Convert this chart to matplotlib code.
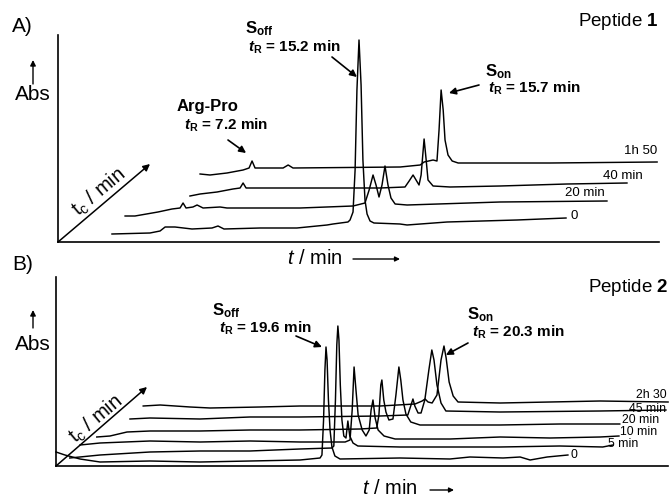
import matplotlib
matplotlib.use("Agg")
import matplotlib.pyplot as plt

plt.rcParams['font.family'] = ['Liberation Sans', 'DejaVu Sans']
plt.rcParams['mathtext.fontset'] = 'custom'
plt.rcParams['mathtext.rm'] = 'Liberation Sans'
plt.rcParams['mathtext.it'] = 'Liberation Sans:italic'
plt.rcParams['mathtext.bf'] = 'Liberation Sans:bold'
plt.rcParams['mathtext.bfit'] = 'Liberation Sans:italic:bold'

# ---------------- data: panel A (peptide 1) ----------------
# each trace: retention time t (min) and absorbance (arb. units),
# plus a pseudo-3D offset along the t_c axis (dx in min, dy in abs units)
A_labels = ["0", "20 min", "40 min", "1h 50"]
A_dx = [0.0, 0.61, 2.35, 3.09]
A_dy = [0, 20, 40, 60]

A0_t = [4.46, 6.11, 6.55, 6.77, 7.20, 7.94, 8.81, 9.07, 9.33, 10.9, 12.5, 13.81, 14.07,
        14.72, 14.81, 14.94, 15.03, 15.11, 15.20, 15.29, 15.37, 15.46, 15.55, 15.68,
        15.85, 16.98, 17.29, 19.03, 22.07, 24.2]
A0_abs = [8, 9, 11, 15, 15, 13, 14, 16, 13, 14, 14, 17, 18,
          20, 22, 30, 72, 152, 202, 157, 82, 42, 28, 21,
          19, 18, 17, 20, 22, 24]

A20_t = [4.42, 4.85, 5.85, 6.46, 6.81, 6.94, 7.07, 7.37, 7.55, 7.81, 8.55, 8.85, 12.03,
         14.33, 14.85, 15.03, 15.20, 15.33, 15.46, 15.59, 15.72, 15.85, 15.98, 16.16,
         16.68, 20.72, 25.37]
A20_abs = [6, 6, 10, 13, 14, 19, 14, 15, 17, 14, 15, 14, 14,
           16, 19, 32, 47, 37, 25, 37, 56, 37, 24, 18,
           17, 20, 21]

A40_t = [5.50, 5.94, 6.68, 7.37, 7.68, 7.81, 7.94, 10.29, 13.77, 14.85, 15.03, 15.20,
         15.33, 15.46, 15.55, 15.68, 15.77, 15.85, 16.07, 16.81, 18.98, 21.9, 24.5]
A40_abs = [6, 8, 10, 13, 14, 19, 14, 14, 14, 15, 21, 27,
           22, 17, 27, 63, 42, 22, 16, 15, 16, 18, 19]

A110_t = [5.20, 5.63, 6.37, 7.07, 7.33, 7.46, 7.59, 8.81, 9.03, 9.24, 13.9, 14.77, 14.94,
          15.33, 15.50, 15.59, 15.68, 15.77, 15.85, 15.98, 16.16, 16.42, 18.24, 20.42, 25.07]
A110_abs = [8, 7, 9, 12, 14, 21, 14, 14, 17, 14, 15, 17, 20,
            22, 21, 52, 92, 72, 42, 27, 21, 19, 19, 19, 20]

A_t = [A0_t, A20_t, A40_t, A110_t]
A_abs = [A0_abs, A20_abs, A40_abs, A110_abs]

# ---------------- data: panel B (peptide 2) ----------------
B_labels = ["0", "5 min", "10 min", "20 min", "45 min", "2h 30"]
B_dx = [0.0, 0.44, 1.04, 2.07, 3.22, 3.67]
B_dy = [0, 5, 20, 28, 45, 57]

B0_t = [9.60, 9.93, 10.49, 11.23, 13.08, 14.93, 16.79, 18.64, 19.38, 19.45, 19.51, 19.56,
        19.60, 19.64, 19.69, 19.75, 19.82, 19.93, 20.12, 22.34, 24.19, 24.93, 26.16,
        26.79, 27.16, 27.79, 28.56]
B0_abs = [14, 11, 7, 4, 5, 4, 5, 6, 8, 11, 46, 96,
          119, 106, 66, 36, 19, 10, 7, 8, 7, 9, 8,
          9, 6, 9, 11]

B5_t = [9.67, 10.79, 12.64, 14.49, 16.34, 18.19, 19.38, 19.45, 19.51, 19.56, 19.60, 19.64,
        19.69, 19.75, 19.82, 19.90, 19.97, 20.04, 20.16, 20.34, 21.9, 23.75, 25.6, 27.82,
        29.41, 29.79]
B5_abs = [3, 6, 9, 10, 10, 12, 13, 15, 61, 116, 135, 121,
          76, 41, 25, 23, 40, 25, 18, 15, 14, 14, 14, 15,
          14, 16]

B10_t = [9.45, 10.19, 12.04, 13.90, 15.75, 17.60, 19.27, 19.45, 19.53, 19.60, 19.67, 19.75,
         19.90, 20.04, 20.16, 20.23, 20.30, 20.38, 20.49, 20.71, 21.12, 23.16, 25.01,
         26.86, 28.71, 29.41]
B10_abs = [1, 3, 5, 4, 5, 4, 4, 6, 36, 79, 56, 31,
           16, 10, 16, 36, 46, 28, 16, 10, 7, 7, 9,
           8, 9, 10]

B20_t = [9.04, 9.53, 10.16, 11.01, 12.86, 14.71, 16.56, 18.79, 19.41, 19.49, 19.56, 19.60,
         19.67, 19.75, 19.86, 20.01, 20.12, 20.23, 20.30, 20.38, 20.49, 20.67, 21.01,
         23.97, 26.19, 28.41]
B20_abs = [1, 2, 6, 7, 7, 8, 8, 9, 10, 23, 53, 58,
           38, 26, 18, 19, 43, 71, 58, 38, 24, 16, 13,
           13, 14, 14]

B45_t = [9.12, 9.86, 11.71, 13.56, 15.41, 18.38, 19.41, 19.53, 19.60, 19.67, 19.79, 19.90,
         20.04, 20.19, 20.30, 20.38, 20.49, 20.64, 20.82, 22.82, 26.53, 28.97]
B45_abs = [2, 3, 2, 4, 4, 5, 6, 16, 22, 15, 8, 8,
           21, 51, 71, 61, 36, 18, 10, 9, 10, 11]

B150_t = [9.16, 9.79, 10.90, 11.64, 13.49, 14.97, 17.93, 19.23, 19.49, 19.60, 19.71, 19.86,
          20.04, 20.19, 20.30, 20.38, 20.49, 20.64, 20.82, 22.38, 24.23, 26.08, 28.6]
B150_abs = [3, 4, 2, 1, 2, 3, 3, 5, 8, 10, 7, 6,
            14, 49, 63, 51, 27, 13, 7, 6, 7, 8, 7]

B_t = [B0_t, B5_t, B10_t, B20_t, B45_t, B150_t]
B_abs = [B0_abs, B5_abs, B10_abs, B20_abs, B45_abs, B150_abs]

# ---------------- figure ----------------
W, H = 672, 497
fig = plt.figure(figsize=(W / 100, H / 100), dpi=100)


def fx(px):
    return px / W


def fy(py):
    return 1 - py / H


def make_axes(x0, x1, y0, y1, xlim, ylim):
    ax = fig.add_axes([fx(x0), fy(y1), fx(x1) - fx(x0), fy(y0) - fy(y1)])
    ax.set_xlim(*xlim)
    ax.set_ylim(*ylim)
    ax.patch.set_visible(False)
    for s in ("top", "right"):
        ax.spines[s].set_visible(False)
    for s in ("left", "bottom"):
        ax.spines[s].set_linewidth(1.2)
    ax.set_xticks([])
    ax.set_yticks([])
    return ax


axA = make_axes(58, 659, 35, 242, (2.113, 28.243), (0, 207))
axB = make_axes(56, 668, 277, 466, (9.6, 32.267), (0, 189))

LW = 1.05
A_lab_off = [(4, 2, "left"), (-22, 8, "center"), (-4, 7, "center"), (-16, 11, "center")]
for t, a, dx, dy, lab, off in zip(A_t, A_abs, A_dx, A_dy, A_labels, A_lab_off):
    xs = [v + dx for v in t]
    ys = [v + dy for v in a]
    axA.plot(xs, ys, color="black", lw=LW, clip_on=False, solid_joinstyle="round")
    axA.annotate(lab, xy=(xs[-1], ys[-1]), xytext=(off[0], off[1]),
                 textcoords="offset pixels", ha=off[2], va="center", fontsize=9.5)

B_lab_off = [(6, 0, "center"), (10, 1, "center"), (20, 4, "center"), (21, 4, "center"),
             (-18, 1, "center"), (-17, 7, "center")]
for t, a, dx, dy, lab, off in zip(B_t, B_abs, B_dx, B_dy, B_labels, B_lab_off):
    xs = [v + dx for v in t]
    ys = [v + dy for v in a]
    axB.plot(xs, ys, color="black", lw=LW, clip_on=False, solid_joinstyle="round")
    axB.annotate(lab, xy=(xs[-1], ys[-1]), xytext=(off[0], off[1]),
                 textcoords="offset pixels", ha=off[2], va="center", fontsize=8.8)

# ---------------- decorations ----------------
arrow_kw = dict(arrowstyle="-|>", color="black", lw=1.1, mutation_scale=9,
                shrinkA=0, shrinkB=0)


def fig_arrow(x0, y0, x1, y1, **kw):
    d = dict(arrow_kw)
    d.update(kw)
    fig.add_artist(matplotlib.patches.FancyArrowPatch(
        (fx(x0), fy(y0)), (fx(x1), fy(y1)), transform=fig.transFigure, **d))


def ftext(px, py, s, **kw):
    fig.text(fx(px), fy(py), s, **kw)


# panel labels
ftext(12, 26, "A)", fontsize=15, va="center", ha="left")
ftext(12, 265, "B)", fontsize=15, va="center", ha="left")
ftext(659, 22, r"Peptide $\mathbf{1}$", fontsize=13.5, va="center", ha="right")
ftext(668, 288, r"Peptide $\mathbf{2}$", fontsize=13.5, va="center", ha="right")

# Abs arrows
for (ya0, ya1, yt) in [(84, 60, 95), (328, 310, 345)]:
    fig_arrow(33, ya0, 33, ya1, lw=1.0, mutation_scale=8)
    ftext(33, yt, "Abs", fontsize=15, ha="center", va="center")

# t_c diagonal arrows
fig_arrow(58, 242, 150, 164, lw=1.1, mutation_scale=10)
fig_arrow(56, 466, 147, 387, lw=1.1, mutation_scale=10)
ftext(99, 192, r"t$_{\mathrm{c}}$ / min", fontsize=14.5, rotation=40,
      ha="center", va="center", rotation_mode="anchor")
ftext(96, 419, r"t$_{\mathrm{c}}$ / min", fontsize=14.5, rotation=40,
      ha="center", va="center", rotation_mode="anchor")

# t / min arrows
ftext(315, 258, r"$\mathit{t}$ / min", fontsize=14.5, ha="center", va="center")
fig_arrow(353, 259, 400, 259, lw=1.0, mutation_scale=7)
ftext(390, 489, r"$\mathit{t}$ / min", fontsize=14.5, ha="center", va="center")
fig_arrow(430, 490, 454, 490, lw=1.0, mutation_scale=7)

# peak annotations
pk_kw = dict(arrowstyle="-|>", color="black", lw=1.2, mutation_scale=10,
             shrinkA=0, shrinkB=0)
ann_fs = 11


def peak_label(ax, name, tr, xy, tail, sxy, txy):
    ftext(sxy[0], sxy[1], name, fontsize=ann_fs + 1, ha="left", va="center",
          fontweight="bold")
    ftext(txy[0], txy[1], tr, fontsize=ann_fs, ha="left", va="center",
          fontweight="bold")
    ax.annotate("", xy=xy, xycoords="data", xytext=(fx(tail[0]), fy(tail[1])),
                textcoords="figure fraction", arrowprops=pk_kw)


peak_label(axA, r"$\mathbf{S}_{\mathbf{off}}$", r"$\mathbfit{t}_{\mathbf{R}}$ = 15.2 min",
           (15.11, 165), (332, 57), (245, 29), (248, 47))
peak_label(axA, r"$\mathbf{S}_{\mathbf{on}}$", r"$\mathbfit{t}_{\mathbf{R}}$ = 15.7 min",
           (19.11, 149), (479, 85), (485, 72), (488, 88))
peak_label(axA, "Arg-Pro", r"$\mathbfit{t}_{\mathbf{R}}$ = 7.2 min",
           (10.29, 89), (228, 140), (177, 107), (184, 125))
peak_label(axB, r"$\mathbf{S}_{\mathbf{off}}$", r"$\mathbfit{t}_{\mathbf{R}}$ = 19.6 min",
           (19.45, 119), (296, 336), (212, 311), (219, 328))
peak_label(axB, r"$\mathbf{S}_{\mathbf{on}}$", r"$\mathbfit{t}_{\mathbf{R}}$ = 20.3 min",
           (24.04, 111), (468, 343), (467, 315), (472, 332))

fig.savefig("out.png", dpi=100)
